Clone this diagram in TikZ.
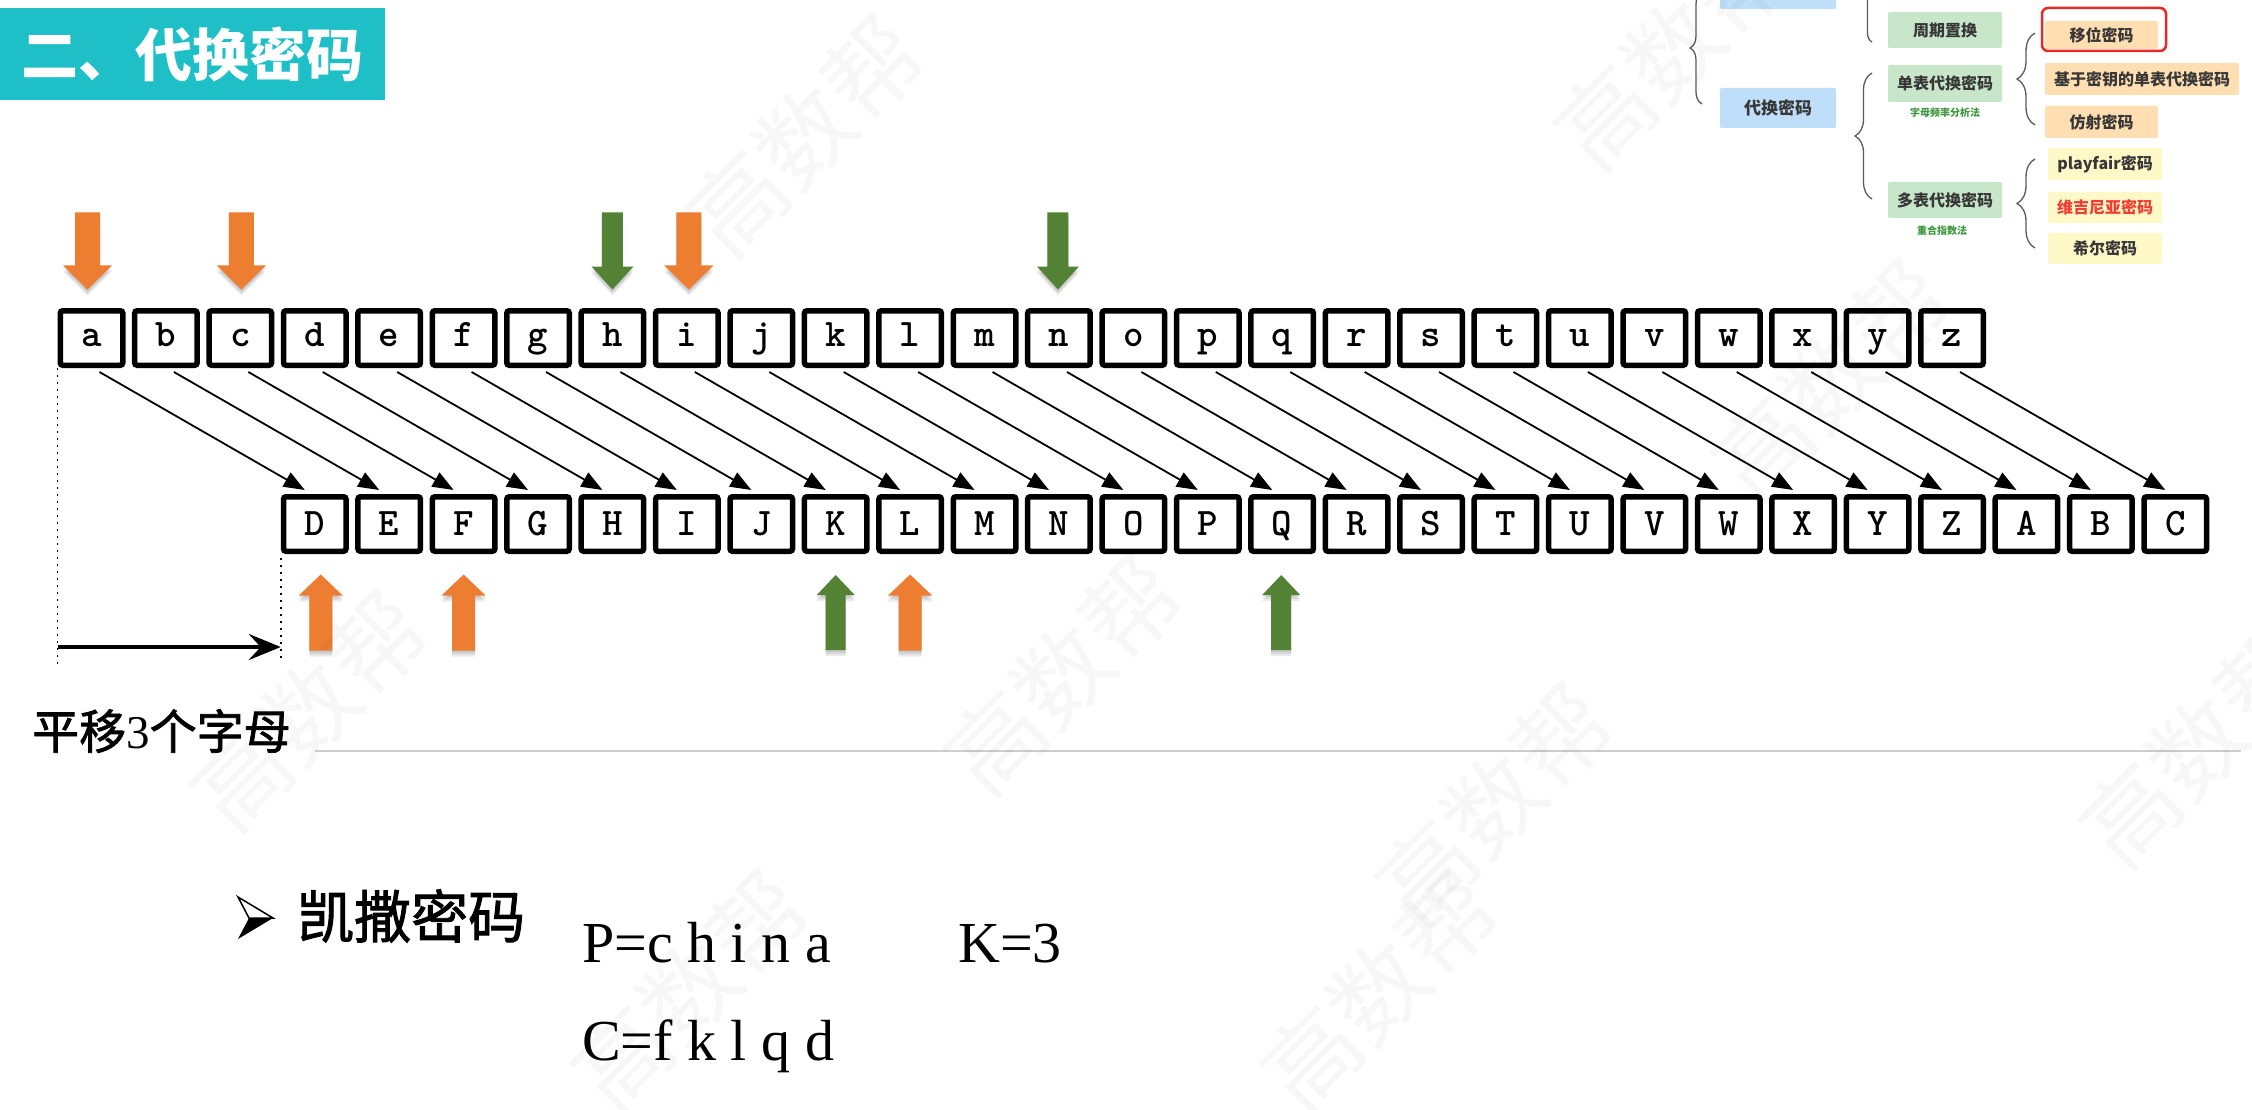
\documentclass[tikz,border=0pt]{standalone}
\usepackage{fontspec}
\setmainfont{Liberation Serif}
\newfontfamily\cjk{Noto Sans CJK SC}
\newfontfamily\cjkm{Noto Sans CJK SC}[FakeBold=1.6]
\usetikzlibrary{arrows.meta,calc,decorations.pathreplacing}
\definecolor{ttl}{RGB}{30,191,199}
\definecolor{aor}{RGB}{237,125,49}
\definecolor{agr}{RGB}{84,130,53}
\definecolor{bbox}{RGB}{190,222,250}
\definecolor{gbox}{RGB}{200,230,201}
\definecolor{obox}{RGB}{255,222,178}
\definecolor{ybox}{RGB}{255,249,200}
\definecolor{tgray}{RGB}{55,55,55}
\definecolor{tgreen}{RGB}{60,150,60}
\definecolor{tred}{RGB}{240,60,50}
\definecolor{hred}{RGB}{230,40,40}
\definecolor{bgray}{RGB}{90,90,90}
\definecolor{lgray}{RGB}{205,205,205}
\tikzset{
  pics/downarr/.style n args={5}{code={
    \foreach \d in {2,4,6}{\fill[black,opacity=0.08,shift={(0,\d)}] (0,0) -- (#2,-#3) -- (#4,-#3) -- (#4,-#5) -- (-#4,-#5) -- (-#4,-#3) -- (-#2,-#3) -- cycle;}
    \fill[#1] (0,0) -- (#2,-#3) -- (#4,-#3) -- (#4,-#5) -- (-#4,-#5) -- (-#4,-#3) -- (-#2,-#3) -- cycle;
  }},
  pics/uparr/.style n args={5}{code={
    \foreach \d in {2,4,6}{\fill[black,opacity=0.08,shift={(0,\d)}] (0,0) -- (#2,#3) -- (#4,#3) -- (#4,#5) -- (-#4,#5) -- (-#4,#3) -- (-#2,#3) -- cycle;}
    \fill[#1] (0,0) -- (#2,#3) -- (#4,#3) -- (#4,#5) -- (-#4,#5) -- (-#4,#3) -- (-#2,#3) -- cycle;
  }}
}
\begin{document}
\begin{tikzpicture}[x=1pt,y=-1pt,
  lbox/.style={draw=black,line width=5.5pt,fill=white,rounded corners=2.5pt,minimum width=62.5pt,minimum height=54.5pt,inner sep=0pt,font=\ttfamily\bfseries\fontsize{39}{40}\selectfont},
  lowrow/.style={text height=25pt,text depth=8pt},
  uprow/.style={text height=25pt,text depth=2pt},
  conn/.style={line width=1.8pt,-{Triangle[length=21pt,width=16pt]}},
  tbox/.style={inner sep=0pt,rounded corners=2pt,text=tgray,font=\cjk\bfseries\fontsize{16}{18}\selectfont},
  tsmall/.style={inner sep=0pt,text=tgreen,font=\cjk\bfseries\fontsize{10}{12}\selectfont},
  brc/.style={draw=bgray,line width=1.3pt,decorate,decoration={brace,amplitude=#1}},
  wm/.style={inner sep=0pt,rotate=45,text=black,text opacity=0.03,font=\cjk\fontsize{95}{100}\selectfont}
]
\useasboundingbox (0,0) rectangle (2252,1110);
\fill[white] (0,0) rectangle (2252,1110);

% title
\node[fill=ttl,minimum width=385pt,minimum height=92pt,inner sep=0pt,text=white,font=\cjk\bfseries\fontsize{57}{60}\selectfont] (title) at (192.5,54) {二、代换密码};

% letter rows
\foreach \l [count=\i from 0] in {a,b,c,d,e,f,g,h,i,j,k,l,m,n,o,p,q,r,s,t,u,v,w,x,y,z}
  \node[lbox,lowrow] (t\i) at ({91.5+74.42*\i},338) {\l};
\foreach \L [count=\j from 3] in {D,E,F,G,H,I,J,K,L,M,N,O,P,Q,R,S,T,U,V,W,X,Y,Z,A,B,C}
  \node[lbox,uprow] (b\j) at ({91.5+74.42*\j},524) {\L};

% connectors
\foreach \i in {0,...,25}{
  \pgfmathtruncatemacro\j{\i+3}
  \draw[conn] ($(t\i.south)+(8,4)$) -- ($(b\j.north)+(-10,-4)$);
}

% top block arrows
\pic at ($(t0.north)+(-4,-18.5)$) {downarr={aor}{24.5}{24}{12.5}{77}};
\pic at ($(t2.north)+(1,-18.5)$) {downarr={aor}{24.5}{24}{12.5}{77}};
\pic at ($(t7.north)+(0,-18.5)$) {downarr={agr}{21}{23}{10.5}{77}};
\pic at ($(t8.north)+(2,-18.5)$) {downarr={aor}{24.5}{24}{12.5}{77}};
\pic at ($(t13.north)+(-1,-18.5)$) {downarr={agr}{21}{23}{10.5}{77}};

% bottom block arrows
\pic at ($(b3.south)+(6,20.5)$) {uparr={aor}{22}{21}{11.5}{76}};
\pic at ($(b5.south)+(0,20.5)$) {uparr={aor}{22}{21}{11.5}{76}};
\pic at ($(b10.south)+(0,21)$) {uparr={agr}{19}{20}{10}{75}};
\pic at ($(b11.south)+(0,20.5)$) {uparr={aor}{22}{21}{11.5}{76}};
\pic at ($(b16.south)+(-1,21)$) {uparr={agr}{19}{20}{10}{75}};

% shift indicator
\coordinate (lvl) at (0,647);
\coordinate (lend) at (0,665);
\coordinate (rend) at (0,662);
\draw[line width=1.8pt,dash pattern=on 2pt off 5pt] (t0.south west) -- (t0.south west |- lend);
\draw[line width=1.8pt,dash pattern=on 2pt off 5pt] ($(b3.south west)+(0,4)$) -- (b3.south west |- rend);
\draw[line width=4.5pt,-{Stealth[length=32pt,width=26pt,inset=12pt]}] (t0.south west |- lvl) -- (b3.south west |- lvl);
\node[anchor=west,inner sep=0pt,font=\fontsize{47}{50}\selectfont] (shiftlbl) at (32,731) {\cjkm 平移\rmfamily 3\cjkm 个字母};
\draw[lgray,line width=2.5pt] (315,751) -- (2241,751);

% Caesar example
\fill[black] (249,918) -- (273,918) -- (238,939) -- cycle;
\draw[black,line width=1.5pt,line join=miter] (238,897) -- (273,918) -- (249,918) -- cycle;
\node[anchor=west,inner sep=0pt,font=\cjkm\fontsize{57}{60}\selectfont] (ks) at (297,916) {凯撒密码};
\node[anchor=base west,inner sep=0pt,font=\fontsize{58}{60}\selectfont] (pt) at (582,962) {P=c h i n a};
\node[anchor=base west,inner sep=0pt,font=\fontsize{58}{60}\selectfont] (kt) at (958,962) {K=3};
\node[anchor=base west,inner sep=0pt,font=\fontsize{58}{60}\selectfont] (ct) at (582,1060) {C=f k l q d};

% tree (top right)
\node[tbox,fill=bbox,minimum width=116pt,minimum height=40pt] (zh) at (1778,-11) {};
\node[tbox,fill=bbox,minimum width=116pt,minimum height=40pt,font=\cjk\bfseries\fontsize{17}{19}\selectfont] (dh) at (1778,108) {代换密码};
\node[tbox,fill=gbox,minimum width=114pt,minimum height=36pt] (zq) at (1945,30) {周期置换};
\node[tbox,fill=gbox,minimum width=114pt,minimum height=37pt] (db) at (1945,83.5) {单表代换密码};
\node[tsmall] (zm) at (1945,113) {字母频率分析法};
\node[tbox,fill=gbox,minimum width=114pt,minimum height=36pt] (dd) at (1945,200) {多表代换密码};
\node[tsmall] (ch) at (1942,231) {重合指数法};
\node[tbox,fill=obox,minimum width=113pt,minimum height=28pt] (yw) at (2101.5,35) {移位密码};
\node[draw=hred,line width=2.5pt,rounded corners=6pt,minimum width=124pt,minimum height=43pt,inner sep=0pt] (hl) at (2104,29.5) {};
\node[tbox,fill=obox,minimum width=194pt,minimum height=32pt] (jy) at (2142,79) {基于密钥的单表代换密码};
\node[tbox,fill=obox,minimum width=113pt,minimum height=32pt] (fs) at (2101.5,122) {仿射密码};
\node[tbox,fill=ybox,minimum width=114pt,minimum height=32pt] (pf) at (2105,164) {playfair密码};
\node[tbox,fill=ybox,minimum width=114pt,minimum height=31pt,text=tred] (wj) at (2105,207.5) {维吉尼亚密码};
\node[tbox,fill=ybox,minimum width=114pt,minimum height=31pt] (xe) at (2105,248.5) {希尔密码};
\draw[brc=12pt] (1702,104) -- (1702,-8);
\draw[brc=9pt] (1872,42) -- (1872,-80);
\draw[brc=17pt] (1872,199) -- (1872,73);
\draw[brc=18pt] (2035,125) -- (2035,33);
\draw[brc=18pt] (2035,248) -- (2035,159);

% watermarks
\node[wm] (w1) at (805,136) {高数帮};
\node[wm] (w2) at (1673,50) {高数帮};
\node[wm] (w3) at (1831,380) {高数帮};
\node[wm] (w4) at (309,711) {高数帮};
\node[wm] (w5) at (1063,675) {高数帮};
\node[wm] (w6) at (1494,804) {高数帮};
\node[wm] (w7) at (690,991) {高数帮};
\node[wm] (w8) at (1379,991) {高数帮};
\node[wm] (w9) at (2198,747) {高数帮};
\end{tikzpicture}
\end{document}
